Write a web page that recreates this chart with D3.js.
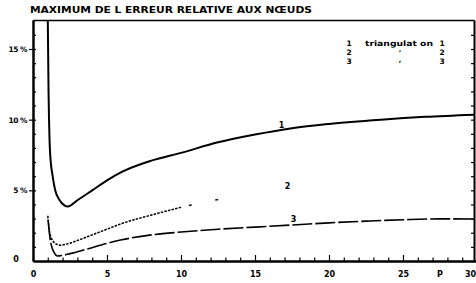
<!DOCTYPE html>
<html><head><meta charset="utf-8">
<script src="https://cdn.jsdelivr.net/npm/d3@7"></script>
</head><body style="margin:0;padding:0;background:#fff">
<script>
const titleText = "MAXIMUM DE L ERREUR RELATIVE AUX NŒUDS";
const xTickValues = [0, 5, 10, 15, 20, 25, 30];
const yTickValues = [0, 5, 10, 15];
const yTickLabels = ["0", "5 %", "10 %", "15 %"];
const xAxisName = "P";

const p1 = [1.0, 1.05, 1.12, 1.2, 1.3, 1.5, 1.8, 2.1, 2.35, 3.0, 4.0, 5.0, 6.0, 8.0, 10.0, 12.5, 15.0, 17.5, 20.0, 23.5, 26.5, 29.8];
const e1 = [17.05, 12, 8.5, 7.0, 6.2, 5.0, 4.3, 3.95, 3.85, 4.3, 5.0, 5.7, 6.3, 7.1, 7.65, 8.4, 8.95, 9.4, 9.7, 10.0, 10.2, 10.35];

const p2 = [1.0, 1.1, 1.25, 1.5, 1.85, 2.3, 3.0, 4.0, 5.0, 6.0, 8.0, 10.0, 12.5, 15.0];
const e2 = [3.2, 2.2, 1.6, 1.25, 1.12, 1.2, 1.45, 1.85, 2.25, 2.65, 3.25, 3.8, 4.35, 4.7];

const p3 = [1.02, 1.15, 1.3, 1.45, 1.65, 2.0, 2.5, 3.5, 5.0, 6.0, 8.0, 10.0, 12.5, 15.0, 17.5, 20.0, 22.5, 25.0, 27.5, 29.8];
const e3 = [2.9, 1.6, 0.9, 0.55, 0.35, 0.4, 0.52, 0.8, 1.25, 1.5, 1.85, 2.05, 2.25, 2.4, 2.55, 2.7, 2.82, 2.92, 2.98, 2.97];

const curveLabels = ["1", "2", "3"];
const curveLabelP = [16.8, 17.2, 17.6];
const curveLabelE = [9.6, 5.3, 2.95];
const legendNums = ["1", "2", "3"];
const legendMid = ["triangulat on", "\u2019", ","];

const FONT = "DejaVu Sans, Arial, sans-serif";
const chartSvg = d3.select("body").append("svg").attr("width", 476).attr("height", 283);
const xs = d3.scaleLinear().domain([0, 30]).range([33, 477]);
const ys = d3.scaleLinear().domain([0, 15]).range([261, 49]);
const FL = 33, FR = 474, FT = 20, FB = 261;
const yTop = ys.invert(FT);

function txt(xp, yp, s, size, anchor) {
  return chartSvg.append("text").attr("x", xp).attr("y", yp).attr("font-family", FONT).attr("font-weight", "bold")
    .attr("font-size", size).attr("fill", "black").attr("text-anchor", anchor || "start").text(s);
}
function styleAxis(g, w) {
  g.selectAll("path.domain").attr("stroke", "black").attr("stroke-width", w);
  g.selectAll(".tick line").attr("stroke", "black").attr("stroke-width", 1.2);
  g.selectAll(".tick text").attr("font-family", FONT).attr("font-weight", "bold").attr("font-size", 8).attr("fill", "black");
}

// title
txt(30, 13, titleText, 8).attr("textLength", 282).attr("lengthAdjust", "spacingAndGlyphs");

// frame scales for the plot box
const xBox = d3.scaleLinear().domain([0, 1]).range([FL, FR]);
const yBox = d3.scaleLinear().domain([0, yTop]).range([FB, FT]);

// bottom axis with major labels
const gx = chartSvg.append("g").attr("transform", `translate(0,${FB})`)
  .call(d3.axisBottom(xs).tickValues(xTickValues).tickSizeInner(-6).tickSizeOuter(0).tickPadding(10).tickFormat(d3.format("d")));
styleAxis(gx, 2);
gx.selectAll(".tick").filter(d => d === 30).select("text").attr("x", -7);
// bottom minor ticks
const gxm = chartSvg.append("g").attr("transform", `translate(0,${FB})`)
  .call(d3.axisBottom(xs).tickValues(d3.range(1, 30).filter(v => v % 5)).tickSizeInner(-3.5).tickSizeOuter(0).tickFormat(""));
styleAxis(gxm, 2);
// top border
const gt = chartSvg.append("g").attr("transform", `translate(0,${FT})`)
  .call(d3.axisTop(xBox).tickValues([]).tickSizeOuter(0));
styleAxis(gt, 1.5);
// left axis
const gy = chartSvg.append("g").attr("transform", `translate(${FL},0)`)
  .call(d3.axisLeft(yBox).tickValues(yTickValues.filter(v => v > 0)).tickSizeInner(4).tickSizeOuter(0).tickPadding(2)
    .tickFormat(d => yTickLabels[yTickValues.indexOf(d)]));
styleAxis(gy, 2);
gy.selectAll(".tick text").attr("font-size", 7.5).attr("letter-spacing", -0.5);
const gym = chartSvg.append("g").attr("transform", `translate(${FL},0)`)
  .call(d3.axisRight(yBox).tickValues(d3.range(1, 17)).tickSizeInner(3).tickSizeOuter(0).tickFormat(""));
styleAxis(gym, 2);
// right border
const gr = chartSvg.append("g").attr("transform", `translate(${FR},0)`)
  .call(d3.axisLeft(yBox).tickValues(d3.range(1, 17)).tickSizeInner(3).tickSizeOuter(0).tickFormat(""));
styleAxis(gr, 2);

// curves
const lineGen = d3.line().x(d => xs(d[0])).y(d => ys(d[1])).curve(d3.curveMonotoneX);
const c1 = p1.map((p, i) => [p, e1[i]]);
const c2 = p2.map((p, i) => [p, e2[i]]);
const c3 = p3.map((p, i) => [p, e3[i]]);
chartSvg.append("path").attr("d", lineGen(c1)).attr("fill", "none").attr("stroke", "black").attr("stroke-width", 2);
chartSvg.append("path").attr("d", lineGen(c2.filter(d => d[0] <= 10))).attr("fill", "none").attr("stroke", "black")
  .attr("stroke-width", 1.5).attr("stroke-dasharray", "2.5,1.2");
chartSvg.append("path").attr("d", lineGen(c2.filter(d => d[0] >= 10))).attr("fill", "none").attr("stroke", "black")
  .attr("stroke-width", 1.3).attr("stroke-dasharray", "0,8,3,24,3,30");
chartSvg.append("path").attr("d", lineGen(c3)).attr("fill", "none").attr("stroke", "black")
  .attr("stroke-width", 1.6).attr("stroke-dasharray", "20,3");

// extra labels
txt(16, ys(0) + 1, yTickLabels[0], 8, "middle");
txt(xs(27.5), 277, xAxisName, 8, "middle");

// curve labels
curveLabels.forEach((t, i) => txt(xs(curveLabelP[i]), ys(curveLabelE[i]) + 3, t, 8, "middle"));

// legend
legendNums.forEach((t, i) => {
  const yy = 46 + i * 9;
  txt(349, yy, t, 7.5, "middle");
  if (i === 0) txt(365, yy, legendMid[i], 7.5).attr("textLength", 68).attr("lengthAdjust", "spacingAndGlyphs");
  else txt(400, yy + (i === 1 ? 0 : -2), legendMid[i], 6.5, "middle");
  txt(442, yy, t, 7.5, "middle");
});
</script>
</body></html>
